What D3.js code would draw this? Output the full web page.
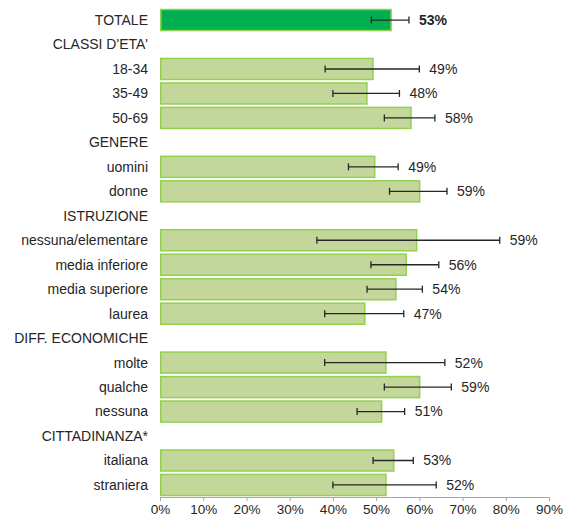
<!DOCTYPE html>
<html>
<head>
<meta charset="utf-8">
<script src="https://cdn.jsdelivr.net/npm/d3@7"></script>
<style>
  body { margin: 0; background: #fff; }
  svg text { font-family: "Liberation Sans", Arial, sans-serif; fill: #262626; }
</style>
</head>
<body>
<svg id="chart" width="563" height="517"></svg>
<script>
// Rows in display order; headers have no value
const rows = ["TOTALE", "CLASSI D'ETA'", "18-34", "35-49", "50-69", "GENERE", "uomini", "donne",
  "ISTRUZIONE", "nessuna/elementare", "media inferiore", "media superiore", "laurea",
  "DIFF. ECONOMICHE", "molte", "qualche", "nessuna", "CITTADINANZA*", "italiana", "straniera"];
const values = [53.3, null, 49.1, 47.7, 57.9, null, 49.5, 59.9,
  null, 59.2, 56.8, 54.4, 47.2, null, 52.1, 59.9, 51.1, null, 53.9, 52.1];
const lows = [48.9, null, 38.2, 40.0, 51.9, null, 43.6, 53.1,
  null, 36.3, 48.8, 47.9, 38.1, null, 38.1, 51.9, 45.6, null, 49.3, 40.0];
const highs = [57.6, null, 60.0, 55.4, 63.6, null, 55.1, 66.4,
  null, 78.6, 64.5, 60.7, 56.4, null, 65.9, 67.4, 56.6, null, 58.6, 63.9];
const labels = ["53%", "", "49%", "48%", "58%", "", "49%", "59%",
  "", "59%", "56%", "54%", "47%", "", "52%", "59%", "51%", "", "53%", "52%"];
const ticks = [0, 10, 20, 30, 40, 50, 60, 70, 80, 90];

const svg = d3.select("#chart");

let x = d3.scaleLinear().domain([0, 90]).range([160, 549]);
let y = d3.scaleBand().domain(rows).range([7.8, 497.2]).paddingInner(0.14).paddingOuter(0.07);

let data = rows.map(function(d, i) {
  return { name: d, value: values[i], lo: lows[i], hi: highs[i], label: labels[i], total: i == 0 };
});
let withValue = data.filter(function(d) { return d.value != null; });

// axis
let axis = d3.axisBottom(x).tickValues(ticks).tickFormat(function(d) { return d + "%"; })
  .tickSize(4).tickPadding(3);
let gx = svg.append("g").attr("transform", "translate(0,497)").call(axis);
gx.select(".domain").attr("stroke", "#a6a6a6");
gx.selectAll(".tick line").attr("stroke", "#a6a6a6");
gx.selectAll(".tick text").attr("font-size", 13.5).attr("fill", "#262626")
  .style("font-family", "'Liberation Sans', Arial, sans-serif");

// category labels
svg.append("g").selectAll("text")
  .data(data).enter().append("text")
    .attr("x", 148)
    .attr("y", function(d) { return y(d.name) + y.bandwidth() / 2; })
    .attr("dy", "0.35em")
    .attr("text-anchor", "end")
    .attr("font-size", 14)
    .text(function(d) { return d.name; });

// bars
svg.append("g").selectAll("rect")
  .data(withValue).enter().append("rect")
    .attr("x", x(0) + 0.75)
    .attr("y", function(d) { return y(d.name); })
    .attr("width", function(d) { return x(d.value) - x(0); })
    .attr("height", y.bandwidth())
    .attr("fill", function(d) { return d.total ? "#00b050" : "#c4d79b"; })
    .attr("stroke", "#92d050")
    .attr("stroke-width", 1.5);

// error bars
let err = svg.append("g").selectAll("g")
  .data(withValue).enter().append("g")
    .attr("stroke", "#262626")
    .attr("stroke-width", 1.3);
err.append("line")
  .attr("x1", function(d) { return x(d.lo); })
  .attr("x2", function(d) { return x(d.hi); })
  .attr("y1", function(d) { return y(d.name) + y.bandwidth() / 2; })
  .attr("y2", function(d) { return y(d.name) + y.bandwidth() / 2; });
err.selectAll(".cap")
  .data(function(d) { return [d.lo, d.hi].map(function(v) { return { v: v, name: d.name }; }); })
  .enter().append("line")
    .attr("class", "cap")
    .attr("x1", function(c) { return x(c.v); })
    .attr("x2", function(c) { return x(c.v); })
    .attr("y1", function(c) { return y(c.name) + y.bandwidth() / 2 - 3.5; })
    .attr("y2", function(c) { return y(c.name) + y.bandwidth() / 2 + 3.5; });

// value labels
svg.append("g").selectAll("text")
  .data(withValue).enter().append("text")
    .attr("x", function(d) { return x(d.hi) + 10; })
    .attr("y", function(d) { return y(d.name) + y.bandwidth() / 2; })
    .attr("dy", "0.35em")
    .attr("font-size", 14)
    .attr("font-weight", function(d) { return d.total ? "bold" : "normal"; })
    .text(function(d) { return d.label; });
</script>
</body>
</html>
